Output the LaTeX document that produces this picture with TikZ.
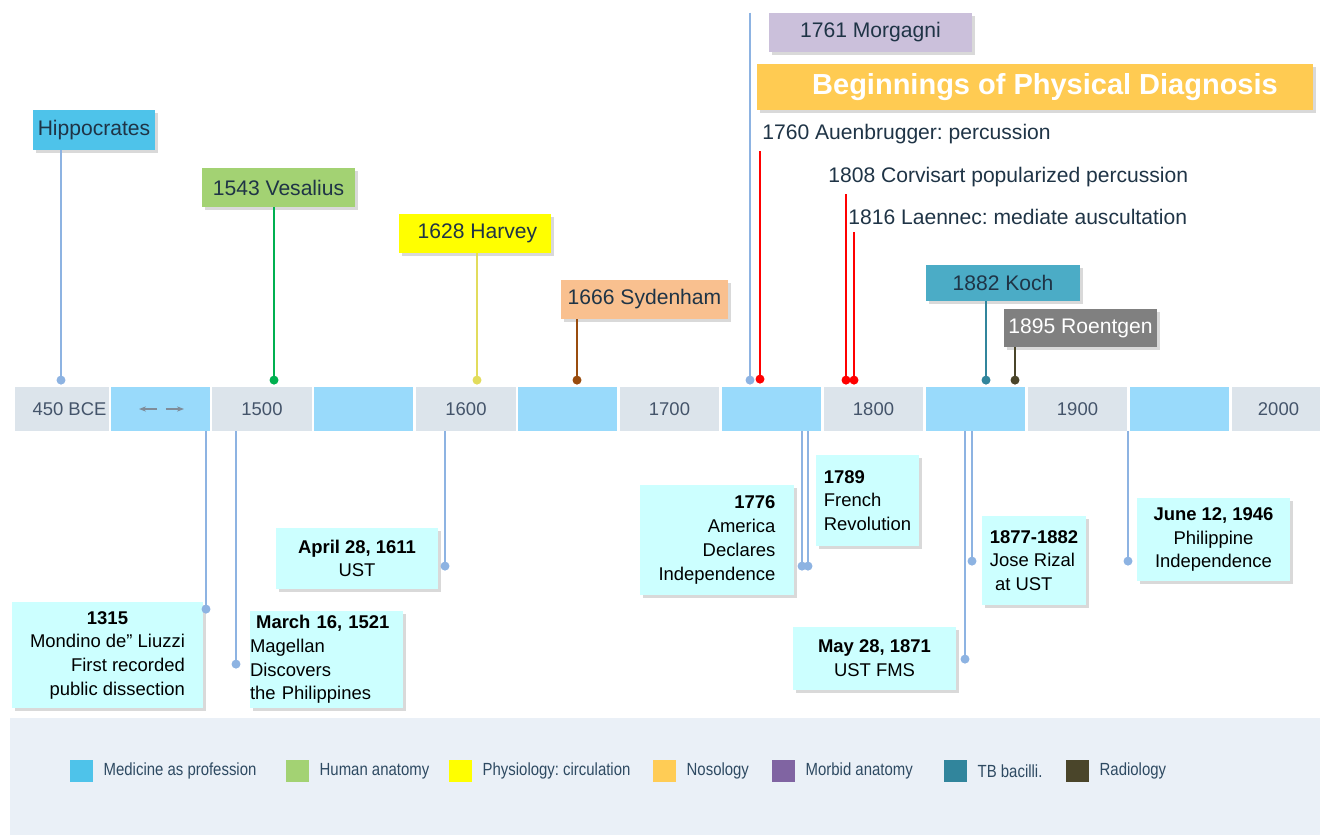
\documentclass[tikz,border=0pt]{standalone}
\usepackage{fontspec}
\setmainfont{Liberation Sans}
\newfontfamily\legendfont[FakeStretch=0.85]{Liberation Sans}
\usepackage{xcolor}
\usetikzlibrary{arrows.meta,positioning,shadows}
\frenchspacing

\definecolor{bargray}{HTML}{DCE4EB}
\definecolor{barblue}{HTML}{99DAFB}
\definecolor{bartext}{HTML}{44546A}
\definecolor{boxtext}{HTML}{1F3446}
\definecolor{profblue}{HTML}{4EC3EA}
\definecolor{anatgreen}{HTML}{A3D273}
\definecolor{stemgreen}{HTML}{00B050}
\definecolor{circyellow}{HTML}{FFFF00}
\definecolor{stemyellow}{HTML}{E2DC5C}
\definecolor{nosopeach}{HTML}{F9C08F}
\definecolor{stembrown}{HTML}{994C0E}
\definecolor{morglav}{HTML}{CBC0DB}
\definecolor{diaggold}{HTML}{FFCB52}
\definecolor{nosogold}{HTML}{FFCC55}
\definecolor{morbidpurple}{HTML}{8064A2}
\definecolor{kochteal}{HTML}{4BACC6}
\definecolor{stemteal}{HTML}{31859C}
\definecolor{roentgray}{HTML}{808080}
\definecolor{stemolive}{HTML}{4A452A}
\definecolor{stemblue}{HTML}{8DB3E2}
\definecolor{stemred}{HTML}{FF0000}
\definecolor{notecyan}{HTML}{CCFFFF}
\definecolor{legendbg}{HTML}{EAF0F7}
\definecolor{legendtext}{HTML}{2E4A62}
\definecolor{arrowgray}{HTML}{7F8C99}

\begin{document}
\begin{tikzpicture}[x=0.02cm, y=-0.02cm]
    \tikzstyle{segment} = [rectangle, inner sep=0pt, minimum height=0.88cm, text=bartext, font=\fontsize{10.5}{12}\selectfont]
    \tikzstyle{event} = [rectangle, inner sep=0pt, text=boxtext, font=\fontsize{12}{14}\selectfont, drop shadow={shadow xshift=1.5pt, shadow yshift=-1.5pt, opacity=0.3}]
    \tikzstyle{note} = [rectangle, inner sep=0pt, fill=notecyan, font=\fontsize{10.5}{13.5}\selectfont, drop shadow={shadow xshift=1.5pt, shadow yshift=-1.5pt, opacity=0.3}]
    \tikzstyle{plain} = [inner xsep=0pt, inner ysep=0.14cm, anchor=west, text=boxtext, font=\fontsize{12}{14}\selectfont]
    \tikzstyle{stem} = [line width=1.5pt, -{Circle[length=5pt]}]
    \tikzstyle{legendbox} = [rectangle, minimum width=0.46cm, minimum height=0.44cm, inner sep=0pt]
    \tikzstyle{legendlabel} = [inner sep=0pt, text=legendtext, font=\legendfont\fontsize{10}{12}\selectfont]

    \useasboundingbox (0,0) rectangle (1320,835);

    % Time bar
    \foreach \n/\xa/\xb/\col/\lab in {1/15/109/bargray/\hspace{0.3cm}450 BCE, 2/111/210/barblue/{}, 3/212/312/bargray/1500, 4/314/413/barblue/{}, 5/416/516/bargray/1600, 6/518/617/barblue/{}, 7/620/719/bargray/1700, 8/722/821/barblue/{}, 9/824/923/bargray/1800, 10/926/1025/barblue/{}, 11/1028/1127/bargray/1900, 12/1130/1229/barblue/{}, 13/1232/1320/bargray/\hspace{0.1cm}2000}
        \node[segment, fill=\col, minimum width={(\xb-\xa)*0.02cm}] (seg\n) at ({(\xa+\xb)/2},409) {\lab};
    \draw[arrowgray, line width=1pt, -{Stealth[length=4pt]}] ([xshift=-0.07cm]seg2.center) -- ++(-18,0);
    \draw[arrowgray, line width=1pt, -{Stealth[length=4pt]}] ([xshift=0.11cm]seg2.center) -- ++(18,0);

    % Events above the bar
    \node[event, fill=profblue, minimum width=2.44cm, minimum height=0.8cm] (hippocrates) at (94,130) {Hippocrates};
    \node[event, fill=anatgreen, minimum width=3.06cm, minimum height=0.78cm] (vesalius) at (278.5,187.5) {1543 Vesalius};
    \node[event, fill=circyellow, minimum width=3.04cm, minimum height=0.78cm] (harvey) at (475,233.5) {\hspace{0.1cm}1628 Harvey};
    \node[event, fill=nosopeach, minimum width=3.34cm, minimum height=0.78cm] (sydenham) at (644.5,299.5) {1666 Sydenham};
    \node[event, fill=morglav, minimum width=4.06cm, minimum height=0.78cm] (morgagni) at (870.5,32.5) {1761 Morgagni\hspace{0.25cm}};
    \node[event, fill=diaggold, text=white, minimum width=11.12cm, minimum height=0.92cm, font=\fontsize{16.5}{18}\selectfont\bfseries] (diagnosis) at (1035,87) {\hspace{0.4cm}\raisebox{-2pt}{Beginnings of Physical Diagnosis}};
    \node[plain] (auenbrugger) at (762,134) {1760 Auenbrugger: percussion};
    \node[plain] (corvisart) at (828,177) {1808 Corvisart popularized percussion};
    \node[plain] (laennec) at (848,217) {1816 Laennec: mediate auscultation};
    \node[event, fill=kochteal, minimum width=3.08cm, minimum height=0.72cm] (koch) at (1003,283) {1882 Koch};
    \node[event, fill=roentgray, text=white, minimum width=3.06cm, minimum height=0.76cm] (roentgen) at (1080.5,328) {1895 Roentgen};

    \coordinate (hippocrates-dot) at (61,384.5);
    \coordinate (vesalius-dot) at (274,384.5);
    \coordinate (harvey-dot) at (477,384.5);
    \coordinate (sydenham-dot) at (577,384.5);
    \coordinate (morgagni-dot) at (750,384.5);
    \coordinate (auenbrugger-dot) at (760,383.5);
    \coordinate (corvisart-dot) at (846,384.5);
    \coordinate (laennec-dot) at (854,384.5);
    \coordinate (koch-dot) at (986,384.5);
    \coordinate (roentgen-dot) at (1015,384.5);

    \draw[stem, stemblue] (hippocrates-dot |- hippocrates.south) -- (hippocrates-dot);
    \draw[stem, stemgreen] (vesalius-dot |- vesalius.south) -- (vesalius-dot);
    \draw[stem, stemyellow] (harvey-dot |- harvey.south) -- (harvey-dot);
    \draw[stem, stembrown] (sydenham-dot |- sydenham.south) -- (sydenham-dot);
    \draw[stem, stemblue] (morgagni-dot |- morgagni.north) -- (morgagni-dot);
    \draw[stem, stemred] (auenbrugger-dot |- auenbrugger.south) -- (auenbrugger-dot);
    \draw[stem, stemred] (corvisart-dot |- corvisart.south) -- (corvisart-dot);
    \draw[stem, stemred] (laennec-dot |- laennec.south) -- (laennec-dot);
    \draw[stem, stemteal] (koch-dot |- koch.south) -- (koch-dot);
    \draw[stem, stemolive] (roentgen-dot |- roentgen.south) -- (roentgen-dot);

    % Events below the bar
    \node[note, minimum width=3.82cm, minimum height=2.12cm] (mondino) at (107.5,655) {\begin{tabular}{@{}r@{}}\multicolumn{1}{@{}c@{}}{\textbf{1315}\hspace{0.2cm}}\\ Mondino de” Liuzzi\\ First recorded\\ public dissection\end{tabular}};
    \node[note, align=left, text width=3.06cm, minimum height=1.94cm] (magellan) at (326.5,659.5) {\textbf{~March 16, 1521}\\Magellan\\Discovers\\the Philippines};
    \node[note, align=center, minimum width=3.24cm, minimum height=1.22cm] (ust) at (357,558.5) {\textbf{April 28, 1611}\\UST};
    \node[note, align=right, minimum width=3.08cm, minimum height=2.20cm] (america) at (717,540) {\textbf{1776}\\America\\Declares\\Independence};
    \node[note, align=left, minimum width=2.06cm, minimum height=1.82cm] (france) at (867.5,500.5) {\textbf{1789}\\French\\Revolution};
    \node[note, align=center, minimum width=3.26cm, minimum height=1.26cm] (fms) at (874.5,658.5) {\textbf{May 28, 1871}\\UST FMS};
    \node[note, align=left, minimum width=2.08cm, minimum height=1.78cm] (rizal) at (1034,560.5) {\textbf{1877-1882}\\Jose Rizal\\~at UST};
    \node[note, align=center, minimum width=3.06cm, minimum height=1.66cm] (independence) at (1213.5,539.5) {\textbf{June 12, 1946}\\Philippine\\Independence\hspace{0.2cm}};

    \coordinate (mondino-dot) at (206,613.5);
    \coordinate (magellan-dot) at (236,668.5);
    \coordinate (ust-dot) at (445,570.5);
    \coordinate (america-dot) at (802,570.5);
    \coordinate (france-dot) at (808,570.5);
    \coordinate (fms-dot) at (965,663.5);
    \coordinate (rizal-dot) at (972,565.5);
    \coordinate (independence-dot) at (1128,565.5);

    \draw[stem, stemblue] (mondino-dot |- seg2.south) -- (mondino-dot);
    \draw[stem, stemblue] (magellan-dot |- seg3.south) -- (magellan-dot);
    \draw[stem, stemblue] (ust-dot |- seg5.south) -- (ust-dot);
    \draw[stem, stemblue] (america-dot |- seg8.south) -- (america-dot);
    \draw[stem, stemblue] (france-dot |- seg8.south) -- (france-dot);
    \draw[stem, stemblue] (fms-dot |- seg10.south) -- (fms-dot);
    \draw[stem, stemblue] (rizal-dot |- seg10.south) -- (rizal-dot);
    \draw[stem, stemblue] (independence-dot |- seg12.south) -- (independence-dot);

    % Legend
    \fill[legendbg] (10,718) rectangle (1320,835);
    \foreach \n/\xx/\col/\lab in {1/81.5/profblue/Medicine as profession, 2/297.5/anatgreen/Human anatomy, 3/460.5/circyellow/Physiology: circulation, 4/664.5/nosogold/Nosology, 5/783.5/morbidpurple/Morbid anatomy, 6/955.5/stemteal/TB bacilli., 7/1077.5/stemolive/Radiology}
    {
        \node[legendbox, fill=\col] (legend\n) at (\xx,771) {};
        \node[legendlabel, right=0.2cm of legend\n] (label\n) {\lab};
    }
\end{tikzpicture}
\end{document}
